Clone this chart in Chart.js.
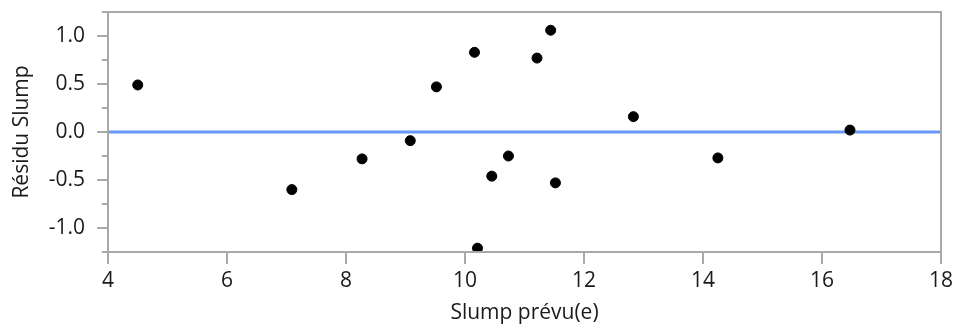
<!DOCTYPE html>
<html>
<head>
<meta charset="utf-8">
<script src="https://cdn.jsdelivr.net/npm/chart.js@4"></script>
<style>
  html, body { margin: 0; padding: 0; background: #fff; }
  #wrap { width: 956px; height: 328px; }
</style>
</head>
<body>
<div id="wrap"><canvas id="residChart" width="956" height="328"></canvas></div>
<script>
// predicted slump vs residual
const predicted = [4.50, 7.09, 8.27, 9.08, 9.52, 10.16, 10.21, 10.45, 10.73, 11.21, 11.44, 11.52, 12.83, 14.25, 16.47]
const residuals = [0.49, -0.60, -0.28, -0.09, 0.47, 0.83, -1.21, -0.46, -0.25, 0.77, 1.06, -0.53, 0.16, -0.27, 0.02]
const xRange = [4, 18]
const xTicks = [4, 6, 8, 10, 12, 14, 16, 18]
const yRange = [-1.25, 1.25]
const yTicks = [-1.25, -1.0, -0.75, -0.5, -0.25, 0.0, 0.25, 0.5, 0.75, 1.0, 1.25]
const yLabelTicks = [-1.0, -0.5, 0.0, 0.5, 1.0]
const zeroLine = [0, 0]

const axisColor = '#a9a9a9'
const textColor = '#1a1a1a'
const fontFamily = "'Open Sans', 'Noto Sans', sans-serif"
const fontSize = 21

const isLabelTick = (v) => yLabelTicks.some(t => Math.abs(t - v) < 1e-9)

// draw the frame and the tick marks (long majors, short minors)
const framePlugin = {
  id: 'frame',
  afterDraw(chart) {
    const { ctx, chartArea: a, scales } = chart
    ctx.save()
    ctx.strokeStyle = axisColor
    ctx.lineWidth = 2
    ctx.strokeRect(a.left, a.top, a.right - a.left, a.bottom - a.top)
    ctx.beginPath()
    scales.y.ticks.forEach(t => {
      const py = Math.round(scales.y.getPixelForValue(t.value))
      ctx.moveTo(a.left, py)
      ctx.lineTo(a.left - (isLabelTick(t.value) ? 11 : 6), py)
    })
    scales.x.ticks.forEach(t => {
      const px = Math.round(scales.x.getPixelForValue(t.value))
      ctx.moveTo(px, a.bottom)
      ctx.lineTo(px, a.bottom + 12)
    })
    ctx.stroke()
    ctx.restore()
  }
}

const ctx = document.getElementById('residChart').getContext('2d')

new Chart(ctx, {
  type: 'scatter',
  data: {
    datasets: [
      {
        type: 'line',
        data: xRange.map((x, i) => ({ x: x, y: zeroLine[i] })),
        borderColor: '#6798f5',
        borderWidth: 3,
        pointRadius: 0,
        order: 2,
      },
      {
        data: predicted.map((x, i) => ({ x: x, y: residuals[i] })),
        backgroundColor: '#000',
        borderColor: '#000',
        pointRadius: 5,
        pointHoverRadius: 5,
        order: 1,
      },
    ],
  },
  options: {
    responsive: false,
    animation: false,
    events: [],
    layout: { padding: { top: 12, right: 15, left: 0, bottom: 0 } },
    plugins: { legend: { display: false }, tooltip: { enabled: false } },
    scales: {
      x: {
        type: 'linear',
        min: xRange[0],
        max: xRange[1],
        grid: { display: false, drawTicks: false },
        border: { display: false },
        afterBuildTicks(scale) { scale.ticks = xTicks.map(v => ({ value: v })) },
        ticks: {
          padding: 16,
          color: textColor,
          font: { family: fontFamily, size: fontSize },
          maxRotation: 0,
          autoSkip: false,
        },
        title: {
          display: true,
          text: 'Slump prévu(e)',
          color: textColor,
          font: { family: fontFamily, size: fontSize },
          padding: { top: 0, bottom: 2 },
        },
        afterFit(scale) {
          scale.height = 76
          scale.paddingLeft = 0
          scale.paddingRight = 0
        },
      },
      y: {
        type: 'linear',
        min: yRange[0],
        max: yRange[1],
        grid: { display: false, drawTicks: false },
        border: { display: false },
        afterBuildTicks(scale) { scale.ticks = yTicks.map(v => ({ value: v })) },
        ticks: {
          padding: 23,
          color: textColor,
          font: { family: fontFamily, size: fontSize },
          autoSkip: false,
          callback: (v) => isLabelTick(v) ? v.toFixed(1) : '',
        },
        title: {
          display: true,
          text: 'Résidu Slump',
          color: textColor,
          font: { family: fontFamily, size: fontSize },
          padding: { top: 9, bottom: 0 },
        },
        afterFit(scale) {
          scale.width = 108
          scale.paddingTop = 0
          scale.paddingBottom = 0
        },
      },
    },
  },
  plugins: [framePlugin],
})
</script>
</body>
</html>
